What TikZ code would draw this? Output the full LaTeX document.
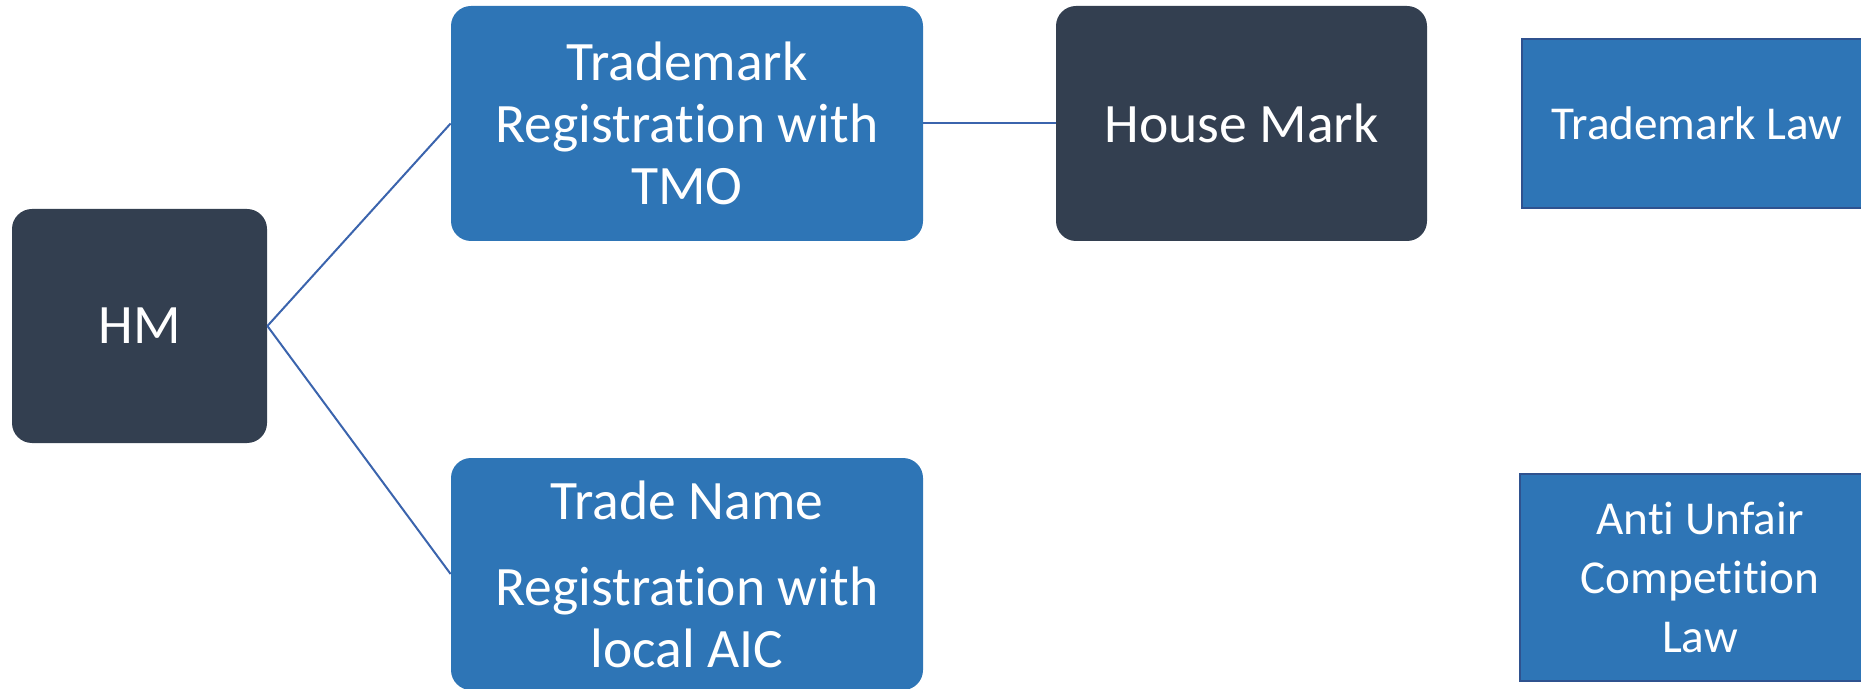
\documentclass[tikz,border=0pt]{standalone}
\usepackage{fontspec}
\setmainfont[RawFeature=-liga]{Carlito}
\definecolor{darkbox}{HTML}{333F50}
\definecolor{bluebox}{HTML}{2E75B6}
\definecolor{edgeblue}{HTML}{3B64AD}
\definecolor{outlineblue}{HTML}{2F528F}
\begin{document}
\begin{tikzpicture}[x=0.5pt,y=-0.5pt,
  every node/.style={text=white, font=\fontsize{27.8}{31}\selectfont, align=center, inner sep=0pt},
  darkrnd/.style={fill=darkbox, rounded corners=10pt},
  bluernd/.style={fill=bluebox, rounded corners=10pt},
  lawbox/.style={fill=bluebox, draw=outlineblue, line width=1pt, font=\fontsize{23.6}{29.5}\selectfont},
  link/.style={draw=edgeblue, line width=1pt}]
\useasboundingbox (0,0) rectangle (1861,689);
\node[darkrnd, minimum width=127.5pt, minimum height=117pt] (hm) at (139.5,326) {HM};
\node[bluernd, minimum width=236pt, minimum height=117.5pt] (tmo) at (687,123.5) {Trademark\\Registration with\\TMO};
\node[darkrnd, minimum width=185.5pt, minimum height=117.5pt] (house) at (1241.5,123.5) {House Mark};
\node[bluernd, minimum width=236pt, minimum height=116pt] (tn) at (687,574) {Trade Name\\[12pt]Registration with\\local AIC};
\node[lawbox, minimum width=175pt, minimum height=84.5pt] (tmlaw) at (1697,123.5) {Trademark Law};
\node[lawbox, minimum width=180pt, minimum height=103.5pt] (aucl) at (1700,577.5) {Anti Unfair\\Competition\\Law};
\draw[link] (hm.east) -- (tmo.west);
\draw[link] (hm.east) -- (tn.west);
\draw[link] (tmo.east) -- (house.west);
\end{tikzpicture}
\end{document}
